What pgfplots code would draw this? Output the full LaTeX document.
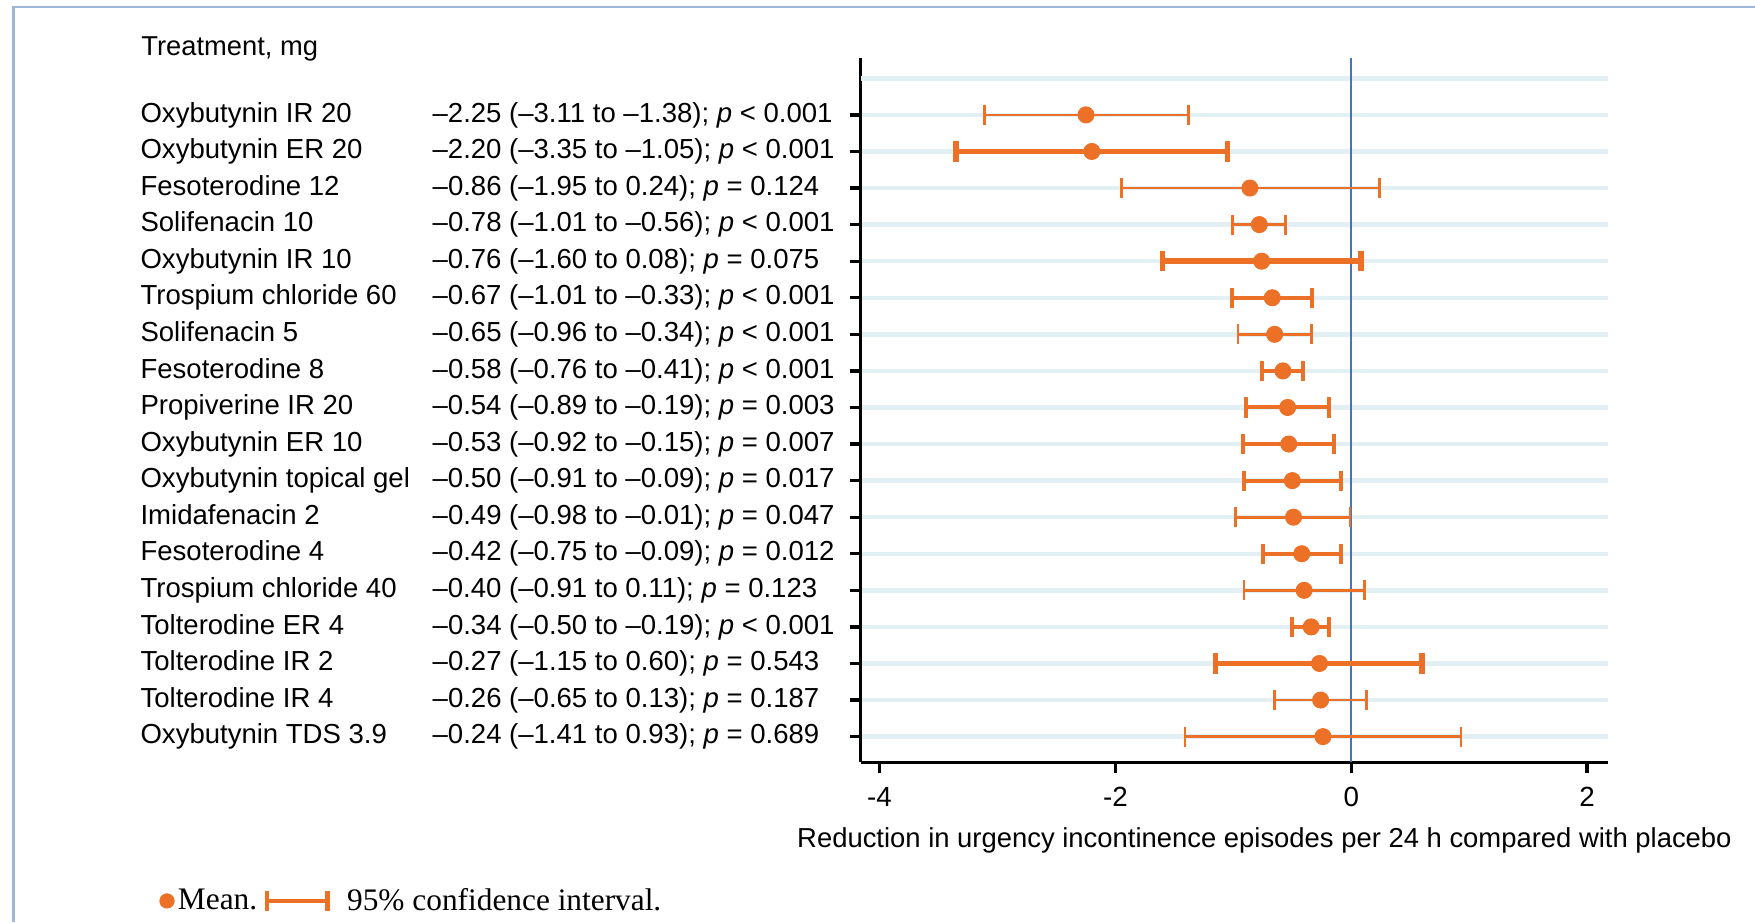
\documentclass[border=0pt]{standalone}
\usepackage{fontspec}
\setmainfont{Liberation Sans}
\newfontfamily\legendfont{Liberation Serif}
\usepackage{pgfplots}
\usepackage{pgfplotstable}
\pgfplotsset{compat=1.18}
\definecolor{orng}{RGB}{236,112,38}
\definecolor{gridc}{RGB}{226,240,244}
\definecolor{zeroblue}{RGB}{68,114,196}
\definecolor{bordc}{RGB}{160,182,215}
\newcommand\lab[2]{\makebox[316.5pt][l]{\makebox[130.5pt][l]{#1}#2}}

% row  mean  minus  plus
\pgfplotstableread{
y m em ep
1 -2.25 0.86 0.87
3 -0.86 1.09 1.10
4 -0.78 0.23 0.22
7 -0.65 0.31 0.31
12 -0.49 0.49 0.48
14 -0.40 0.51 0.51
17 -0.26 0.39 0.39
18 -0.24 1.17 1.17
}\thinrows
\pgfplotstableread{
y m em ep
6 -0.67 0.34 0.34
8 -0.58 0.18 0.17
9 -0.54 0.35 0.35
10 -0.53 0.39 0.38
11 -0.50 0.41 0.41
13 -0.42 0.33 0.33
15 -0.34 0.16 0.15
}\medrows
\pgfplotstableread{
y m em ep
2 -2.20 1.15 1.15
5 -0.76 0.84 0.84
16 -0.27 0.88 0.87
}\thickrows

\begin{document}
\begin{tikzpicture}[font=\fontsize{12.2}{14}\selectfont]
\useasboundingbox (0,0) rectangle (784pt,412pt);
\draw[bordc, line width=1pt] (6pt,0pt) -- (6pt,409pt) -- (784pt,409pt);
\node[anchor=west, inner sep=0pt] at (63pt,390pt) {Treatment, mg};
\begin{axis}[
  at={(384.5pt,71.5pt)}, anchor=south west,
  scale only axis, width=334pt, height=314.5pt,
  xmin=-4.16, xmax=2.18, ymin=-0.55, ymax=18.7, y dir=reverse,
  axis x line*=bottom, axis y line*=left,
  axis line style={line width=1.5pt, black, -},
  xtick={-4,-2,0,2}, ytick={1,...,18},
  yticklabels={
    {\lab{Oxybutynin IR 20}{–2.25 (–3.11 to –1.38); \textit{p} < 0.001}},
    {\lab{Oxybutynin ER 20}{–2.20 (–3.35 to –1.05); \textit{p} < 0.001}},
    {\lab{Fesoterodine 12}{–0.86 (–1.95 to 0.24); \textit{p} = 0.124}},
    {\lab{Solifenacin 10}{–0.78 (–1.01 to –0.56); \textit{p} < 0.001}},
    {\lab{Oxybutynin IR 10}{–0.76 (–1.60 to 0.08); \textit{p} = 0.075}},
    {\lab{Trospium chloride 60}{–0.67 (–1.01 to –0.33); \textit{p} < 0.001}},
    {\lab{Solifenacin 5}{–0.65 (–0.96 to –0.34); \textit{p} < 0.001}},
    {\lab{Fesoterodine 8}{–0.58 (–0.76 to –0.41); \textit{p} < 0.001}},
    {\lab{Propiverine IR 20}{–0.54 (–0.89 to –0.19); \textit{p} = 0.003}},
    {\lab{Oxybutynin ER 10}{–0.53 (–0.92 to –0.15); \textit{p} = 0.007}},
    {\lab{Oxybutynin topical gel}{–0.50 (–0.91 to –0.09); \textit{p} = 0.017}},
    {\lab{Imidafenacin 2}{–0.49 (–0.98 to –0.01); \textit{p} = 0.047}},
    {\lab{Fesoterodine 4}{–0.42 (–0.75 to –0.09); \textit{p} = 0.012}},
    {\lab{Trospium chloride 40}{–0.40 (–0.91 to 0.11); \textit{p} = 0.123}},
    {\lab{Tolterodine ER 4}{–0.34 (–0.50 to –0.19); \textit{p} < 0.001}},
    {\lab{Tolterodine IR 2}{–0.27 (–1.15 to 0.60); \textit{p} = 0.543}},
    {\lab{Tolterodine IR 4}{–0.26 (–0.65 to 0.13); \textit{p} = 0.187}},
    {\lab{Oxybutynin TDS 3.9}{–0.24 (–1.41 to 0.93); \textit{p} = 0.689}}
  },
  tick align=outside, major tick length=5pt,
  tick style={black, line width=1.5pt},
  yticklabel style={anchor=east, inner sep=0pt, font=\fontsize{12.3}{14}\selectfont},
  xticklabel style={font=\fontsize{12.4}{14}\selectfont, inner sep=0pt, yshift=-6pt},
  /pgf/number format/assume math mode=true,
  ymajorgrids, grid style={line width=2pt, gridc},
  extra y ticks={0}, extra y tick labels={},
  extra y tick style={major tick length=0pt, grid=major},
  xlabel={Reduction in urgency incontinence episodes per 24 h compared with placebo},
  xlabel style={at={(axis description cs:0.54,-0.111)}, anchor=center, font=\fontsize{12.25}{14}\selectfont},
  legend style={at={(axis description cs:-0.9386,-0.197)}, anchor=west, draw=none, fill=none,
    inner sep=0pt, font=\legendfont\fontsize{14}{16}\selectfont,
    legend columns=2, /tikz/every even column/.append style={column sep=2pt},
    nodes={inner sep=1.5pt}},
  legend entries={Mean., 95\% confidence interval.},
]
\addplot[draw=zeroblue, line width=1pt, forget plot] coordinates {(0,-0.55) (0,18.7)};
\addplot[only marks, mark=*, mark size=3.6pt, color=orng, forget plot,
  error bars/.cd, x dir=both, x explicit,
  error bar style={line width=1.2pt, orng},
  error mark options={rotate=90, line width=1.2pt, mark size=4.5pt, orng}]
  table[x=m, y=y, x error minus=em, x error plus=ep] {\thinrows};
\addplot[only marks, mark=*, mark size=3.6pt, color=orng, forget plot,
  error bars/.cd, x dir=both, x explicit,
  error bar style={line width=1.8pt, orng},
  error mark options={rotate=90, line width=1.8pt, mark size=4.5pt, orng}]
  table[x=m, y=y, x error minus=em, x error plus=ep] {\medrows};
\addplot[only marks, mark=*, mark size=3.6pt, color=orng, forget plot,
  error bars/.cd, x dir=both, x explicit,
  error bar style={line width=2.5pt, orng},
  error mark options={rotate=90, line width=2.5pt, mark size=4.5pt, orng}]
  table[x=m, y=y, x error minus=em, x error plus=ep] {\thickrows};
\addlegendimage{legend image code/.code={\fill[orng] (0pt,0pt) circle (3.2pt);}}
\addlegendimage{legend image code/.code={\draw[orng, line width=2pt] (0pt,0pt) -- (27pt,0pt);
  \draw[orng, line width=2pt] (0pt,-4.5pt) -- (0pt,4.5pt); \draw[orng, line width=2pt] (27pt,-4.5pt) -- (27pt,4.5pt);
  \path (34pt,0pt);}}
\end{axis}
\end{tikzpicture}
\end{document}
